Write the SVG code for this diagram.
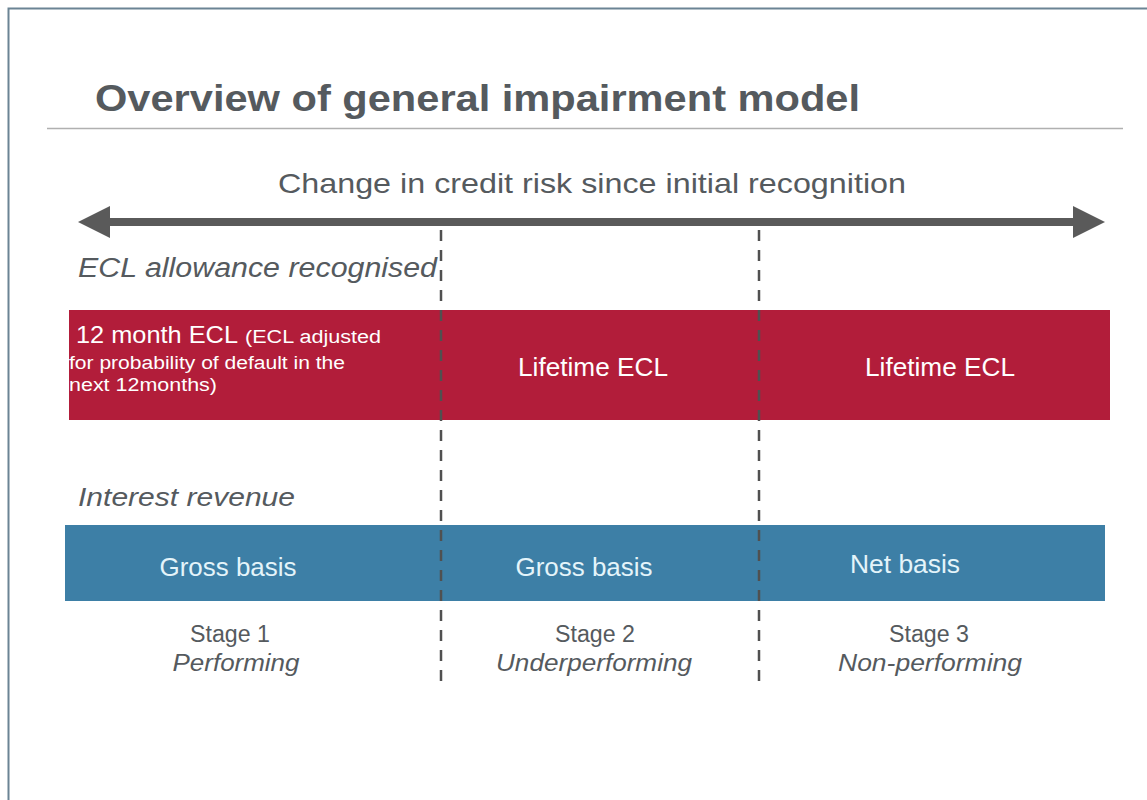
<svg xmlns="http://www.w3.org/2000/svg" width="1147" height="800" viewBox="0 0 1147 800">
<style>
.t{font-family:"Liberation Sans",Arial,sans-serif;fill:#555a5e}
.it{font-style:italic}
.w{fill:#ffffff}
.wb{fill:#e4f4fa}
.dash{stroke:#505050;stroke-width:2.5;stroke-dasharray:11 9;fill:none}
</style>
<defs>
<marker id="ah" markerWidth="4" markerHeight="4" refX="1" refY="2" orient="auto-start-reverse" markerUnits="strokeWidth" viewBox="0 0 4 4">
<path d="M0,0 L4,2 L0,4 z" fill="#5a5a5a"/>
</marker>
</defs>
<rect width="1147" height="800" fill="#ffffff"/>
<path d="M8.5,800 V8.5 H1147" fill="none" stroke="#6b8494" stroke-width="2"/>
<g id="title">
<text class="t" x="95" y="111" font-size="36" font-weight="bold" textLength="765" lengthAdjust="spacingAndGlyphs">Overview of general impairment model</text>
<line x1="47" y1="128.5" x2="1123" y2="128.5" stroke="#b0b0b0" stroke-width="1.5"/>
</g>
<g id="axis">
<text class="t" x="592" y="193" font-size="28" text-anchor="middle" textLength="628" lengthAdjust="spacingAndGlyphs">Change in credit risk since initial recognition</text>
</g>
<g id="connectors">
<line x1="102" y1="222" x2="1081" y2="222" stroke="#5a5a5a" stroke-width="8" marker-start="url(#ah)" marker-end="url(#ah)"/>
</g>
<g id="ecl-label">
<text class="t it" x="78" y="277" font-size="27" textLength="359" lengthAdjust="spacingAndGlyphs">ECL allowance recognised</text>
</g>
<g id="ecl-bar">
<rect x="69" y="310" width="1041" height="110" fill="#b21d3a"/>
<text class="t w" x="76" y="343" font-size="24" textLength="162" lengthAdjust="spacingAndGlyphs">12 month  ECL</text>
<text class="t w" x="245" y="343" font-size="18" textLength="136" lengthAdjust="spacingAndGlyphs">(ECL adjusted</text>
<text class="t w" x="69" y="369" font-size="18" textLength="276" lengthAdjust="spacingAndGlyphs">for probability of default in the</text>
<text class="t w" x="69" y="391" font-size="18" textLength="148" lengthAdjust="spacingAndGlyphs">next 12months)</text>
<text class="t w" x="593" y="376" font-size="25" text-anchor="middle" textLength="150" lengthAdjust="spacingAndGlyphs">Lifetime ECL</text>
<text class="t w" x="940" y="376" font-size="25" text-anchor="middle" textLength="150" lengthAdjust="spacingAndGlyphs">Lifetime ECL</text>
</g>
<g id="interest-label">
<text class="t it" x="78" y="506" font-size="26" textLength="217" lengthAdjust="spacingAndGlyphs">Interest revenue</text>
</g>
<g id="interest-bar">
<rect x="65" y="525" width="1040" height="76" fill="#3d7fa6"/>
<text class="t wb" x="228" y="576" font-size="25" text-anchor="middle" textLength="137" lengthAdjust="spacingAndGlyphs">Gross basis</text>
<text class="t wb" x="584" y="576" font-size="25" text-anchor="middle" textLength="137" lengthAdjust="spacingAndGlyphs">Gross basis</text>
<text class="t wb" x="905" y="573" font-size="25" text-anchor="middle" textLength="110" lengthAdjust="spacingAndGlyphs">Net basis</text>
</g>
<g id="dividers">
<line class="dash" x1="441" y1="230" x2="441" y2="690"/>
<line class="dash" x1="759" y1="230" x2="759" y2="690"/>
</g>
<g id="stage1">
<text class="t" x="230" y="642" font-size="23" text-anchor="middle" textLength="80" lengthAdjust="spacingAndGlyphs">Stage 1</text>
<text class="t it" x="236" y="671" font-size="23" text-anchor="middle" textLength="127" lengthAdjust="spacingAndGlyphs">Performing</text>
</g>
<g id="stage2">
<text class="t" x="595" y="642" font-size="23" text-anchor="middle" textLength="80" lengthAdjust="spacingAndGlyphs">Stage 2</text>
<text class="t it" x="594" y="671" font-size="23" text-anchor="middle" textLength="196" lengthAdjust="spacingAndGlyphs">Underperforming</text>
</g>
<g id="stage3">
<text class="t" x="929" y="642" font-size="23" text-anchor="middle" textLength="80" lengthAdjust="spacingAndGlyphs">Stage 3</text>
<text class="t it" x="930" y="671" font-size="23" text-anchor="middle" textLength="184" lengthAdjust="spacingAndGlyphs">Non-performing</text>
</g>
</svg>
